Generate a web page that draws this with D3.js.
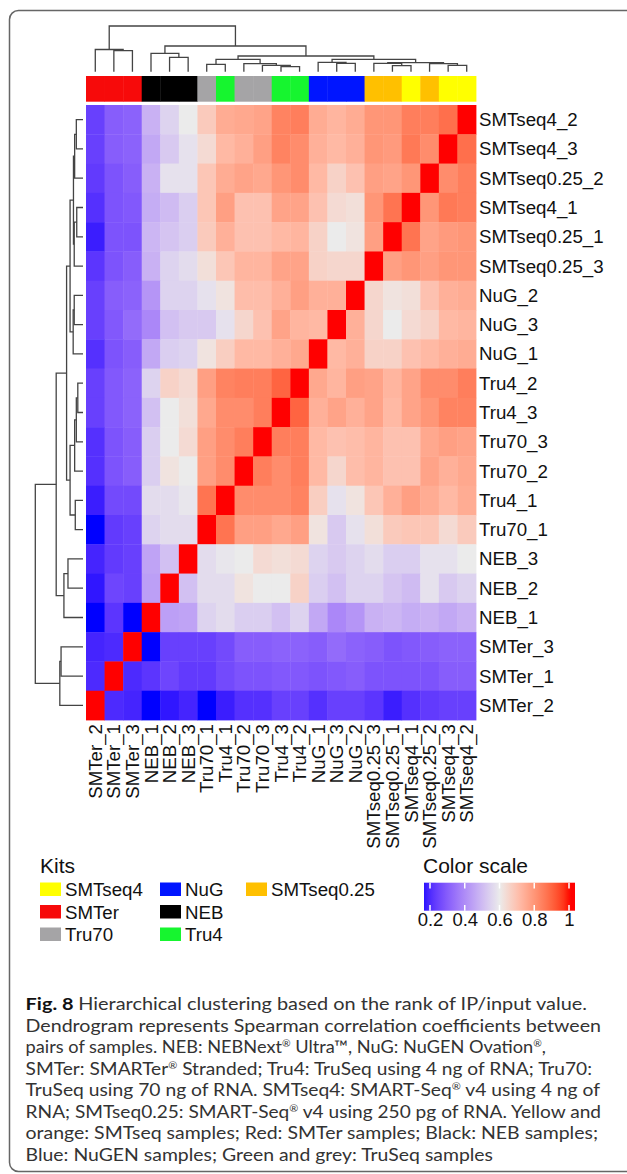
<!DOCTYPE html>
<html>
<head>
<meta charset="utf-8">
<script src="https://cdn.jsdelivr.net/npm/d3@7"></script>
<style>
  body { margin: 0; background: #fff; }
  svg text { font-family: "Liberation Sans", Arial, sans-serif; }
  .caption text { font-family: Lato, "Open Sans", sans-serif; }
</style>
</head>
<body>
<div class="chart"></div>
<script>
// page size
var width = 627;
var height = 1174;

// samples in dendrogram (column) order
var samples = ["SMTer_2", "SMTer_1", "SMTer_3", "NEB_1", "NEB_2", "NEB_3",
  "Tru70_1", "Tru4_1", "Tru70_2", "Tru70_3", "Tru4_3", "Tru4_2",
  "NuG_1", "NuG_3", "NuG_2", "SMTseq0.25_3", "SMTseq0.25_1", "SMTseq4_1",
  "SMTseq0.25_2", "SMTseq4_3", "SMTseq4_2"];

// row labels, top to bottom
var rowLabels = ["SMTseq4_2", "SMTseq4_3", "SMTseq0.25_2", "SMTseq4_1", "SMTseq0.25_1",
  "SMTseq0.25_3", "NuG_2", "NuG_3", "NuG_1", "Tru4_2", "Tru4_3", "Tru70_3", "Tru70_2",
  "Tru4_1", "Tru70_1", "NEB_3", "NEB_2", "NEB_1", "SMTer_3", "SMTer_1", "SMTer_2"];

var sampleKit = ["SMTer", "SMTer", "SMTer", "NEB", "NEB", "NEB",
  "Tru70", "Tru4", "Tru70", "Tru70", "Tru4", "Tru4",
  "NuG", "NuG", "NuG", "SMTseq0.25", "SMTseq0.25", "SMTseq4",
  "SMTseq0.25", "SMTseq4", "SMTseq4"];

var kitNames = ["SMTseq4", "SMTer", "Tru70", "NuG", "NEB", "Tru4", "SMTseq0.25"];
var kitColors = ["#FFFF00", "#F70A0A", "#A5A4A6", "#0015FF", "#000000", "#16F52F", "#FFC000"];

// Spearman correlations, lower triangle: sample i against samples 0..i-1 (column order)
var corrLower = [
  [],
  [0.20],
  [0.19, 0.20],
  [0.15, 0.22, 0.15],
  [0.17, 0.25, 0.24, 0.44],
  [0.19, 0.23, 0.24, 0.45, 0.51],
  [0.15, 0.23, 0.24, 0.55, 0.57, 0.57],
  [0.18, 0.26, 0.26, 0.57, 0.57, 0.59, 0.87],
  [0.21, 0.28, 0.30, 0.54, 0.62, 0.60, 0.78, 0.82],
  [0.21, 0.28, 0.30, 0.54, 0.60, 0.64, 0.78, 0.82, 0.85],
  [0.24, 0.29, 0.31, 0.51, 0.60, 0.63, 0.76, 0.82, 0.82, 0.85],
  [0.24, 0.29, 0.31, 0.55, 0.66, 0.64, 0.78, 0.84, 0.85, 0.85, 0.90],
  [0.21, 0.28, 0.30, 0.46, 0.54, 0.55, 0.62, 0.67, 0.72, 0.72, 0.74, 0.76],
  [0.24, 0.29, 0.33, 0.39, 0.51, 0.53, 0.53, 0.58, 0.65, 0.70, 0.77, 0.73, 0.72],
  [0.24, 0.30, 0.31, 0.42, 0.55, 0.55, 0.58, 0.62, 0.71, 0.71, 0.74, 0.78, 0.74, 0.74],
  [0.22, 0.28, 0.30, 0.48, 0.55, 0.57, 0.63, 0.69, 0.73, 0.73, 0.77, 0.77, 0.66, 0.65, 0.65],
  [0.18, 0.28, 0.28, 0.49, 0.52, 0.54, 0.68, 0.74, 0.70, 0.70, 0.72, 0.73, 0.66, 0.60, 0.62, 0.78],
  [0.21, 0.28, 0.29, 0.47, 0.50, 0.54, 0.69, 0.78, 0.70, 0.70, 0.77, 0.77, 0.70, 0.64, 0.63, 0.80, 0.87],
  [0.23, 0.28, 0.30, 0.48, 0.58, 0.58, 0.69, 0.75, 0.77, 0.76, 0.80, 0.82, 0.72, 0.66, 0.70, 0.78, 0.77, 0.80],
  [0.24, 0.30, 0.31, 0.46, 0.53, 0.58, 0.64, 0.72, 0.74, 0.78, 0.84, 0.82, 0.74, 0.72, 0.74, 0.80, 0.79, 0.86, 0.82],
  [0.24, 0.30, 0.31, 0.48, 0.55, 0.60, 0.68, 0.75, 0.76, 0.77, 0.84, 0.85, 0.75, 0.73, 0.75, 0.80, 0.80, 0.85, 0.85, 0.88]
];

// hclust merges: leaf name or 1-based index of an earlier merge, then height (root = 1)
var merges = [
  ["Tru4_3", "Tru4_2", 0.109],
  ["SMTseq0.25_1", "SMTseq4_1", 0.131],
  ["Tru70_3", 1, 0.140],
  ["SMTseq4_3", "SMTseq4_2", 0.140],
  ["Tru70_1", "Tru4_1", 0.162],
  ["Tru70_2", 3, 0.175],
  ["SMTseq0.25_2", 4, 0.175],
  ["SMTseq0.25_3", 2, 0.184],
  ["NuG_3", "NuG_2", 0.184],
  [8, 7, 0.200],
  ["NuG_1", 9, 0.206],
  [5, 6, 0.271],
  [11, 10, 0.271],
  [12, 13, 0.344],
  ["NEB_2", "NEB_3", 0.315],
  ["NEB_1", 15, 0.400],
  [16, 14, 0.562],
  ["SMTer_1", "SMTer_3", 0.460],
  ["SMTer_2", 18, 0.486],
  [19, 17, 1.000]
];

var legendTicks = [0.2, 0.4, 0.6, 0.8, 1];

var captionLines = [
  "Hierarchical clustering based on the rank of IP/input value.",
  "Dendrogram represents Spearman correlation coefficients between",
  "pairs of samples. NEB: NEBNext® Ultra™, NuG: NuGEN Ovation®,",
  "SMTer: SMARTer® Stranded; Tru4: TruSeq using 4 ng of RNA; Tru70:",
  "TruSeq using 70 ng of RNA. SMTseq4: SMART-Seq® v4 using 4 ng of",
  "RNA; SMTseq0.25: SMART-Seq® v4 using 250 pg of RNA. Yellow and",
  "orange: SMTseq samples; Red: SMTer samples; Black: NEB samples;",
  "Blue: NuGEN samples; Green and grey: TruSeq samples"
];
// right end of each caption line (px)
var captionEnds = [587, 601, 546, 592, 600, 601, 598, 493];

// ---------------------------------------------------------------
const svg = d3.select(".chart")
  .append("svg")
  .attr("width", width)
  .attr("height", height);

// figure frame
svg.append("rect")
  .attr("x", 9.5).attr("y", 10.5)
  .attr("width", 650).attr("height", 1161)
  .attr("rx", 9)
  .attr("fill", "none")
  .attr("stroke", "#666")
  .attr("stroke-width", 1.5);

function corr(a, b) {
  var i = samples.indexOf(a), j = samples.indexOf(b);
  if (i === j) return 1;
  return i > j ? corrLower[i][j] : corrLower[j][i];
}

var colorScale = d3.scaleLinear()
  .domain([0.15, 0.6, 1])
  .range(["#0000ff", "#ebebeb", "#ff0000"])
  .interpolate(d3.interpolateLab)
  .clamp(true);

const xScale = d3.scaleBand().domain(samples).range([86, 476]);
const yScale = d3.scaleBand().domain(rowLabels).range([105, 720]);

// heatmap cells
var cells = [];
rowLabels.forEach(r => samples.forEach(c => cells.push({r: r, c: c, v: corr(r, c)})));

svg.append("g")
  .attr("id", "heatmap")
  .selectAll("rect")
  .data(cells)
  .enter()
  .append("rect")
  .attr("x", d => xScale(d.c))
  .attr("y", d => yScale(d.r))
  .attr("width", xScale.bandwidth() + 0.4)
  .attr("height", yScale.bandwidth() + 0.4)
  .attr("fill", d => colorScale(d.v));

// kit colour bar
var kitColor = d3.scaleOrdinal().domain(kitNames).range(kitColors);
svg.append("g")
  .selectAll("rect")
  .data(samples)
  .enter()
  .append("rect")
  .attr("x", d => xScale(d))
  .attr("y", 76)
  .attr("width", xScale.bandwidth() + 0.4)
  .attr("height", 25.7)
  .attr("fill", (d, i) => kitColor(sampleKit[i]));

// row labels
svg.append("g")
  .selectAll("text")
  .data(rowLabels)
  .enter()
  .append("text")
  .attr("x", 479)
  .attr("y", d => yScale(d) + yScale.bandwidth() / 2)
  .attr("dy", "0.35em")
  .style("font-size", "18.7px")
  .attr("fill", "#111")
  .text(d => d);

// column labels
svg.append("g")
  .selectAll("text")
  .data(samples)
  .enter()
  .append("text")
  .attr("transform", d => "translate(" + (xScale(d) + xScale.bandwidth() / 2) + ",724) rotate(-90)")
  .attr("text-anchor", "end")
  .attr("dy", "0.35em")
  .style("font-size", "18.7px")
  .attr("fill", "#111")
  .text(d => d);

// dendrograms
function dendroSegments(posOf) {
  var nodes = [];
  var segs = [];
  function get(ref) {
    if (typeof ref === "string") return {p: posOf(ref), h: 0};
    return nodes[ref - 1];
  }
  merges.forEach(m => {
    var a = get(m[0]), b = get(m[1]);
    segs.push({a: a, b: b, h: m[2]});
    nodes.push({p: (a.p + b.p) / 2, h: m[2]});
  });
  return segs;
}

var topH = d3.scaleLinear().domain([0, 1]).range([71.7, 26]);
var leftH = d3.scaleLinear().domain([0, 1]).range([83, 35.3]);

svg.append("g")
  .attr("id", "col-dendro")
  .selectAll("path")
  .data(dendroSegments(n => xScale(n) + xScale.bandwidth() / 2))
  .enter()
  .append("path")
  .attr("d", s => "M" + s.a.p + "," + topH(s.a.h) + "V" + topH(s.h) + "H" + s.b.p + "V" + topH(s.b.h))
  .attr("fill", "none")
  .attr("stroke", "#444")
  .attr("stroke-width", 1.3);

svg.append("g")
  .attr("id", "row-dendro")
  .selectAll("path")
  .data(dendroSegments(n => yScale(n) + yScale.bandwidth() / 2))
  .enter()
  .append("path")
  .attr("d", s => "M" + leftH(s.a.h) + "," + s.a.p + "H" + leftH(s.h) + "V" + s.b.p + "H" + leftH(s.b.h))
  .attr("fill", "none")
  .attr("stroke", "#444")
  .attr("stroke-width", 1.3);

// kits legend
svg.append("text")
  .attr("x", 40).attr("y", 873)
  .style("font-size", "21px")
  .attr("fill", "#111")
  .text("Kits");

var kitLegend = svg.append("g").attr("id", "kit-legend");
var kitItems = kitLegend.selectAll("g")
  .data(kitNames)
  .enter()
  .append("g")
  .attr("transform", (d, i) => "translate(" + [40, 160, 246][Math.floor(i / 3)] + "," + (882.5 + (i % 3) * 22.5) + ")");
kitItems.append("rect")
  .attr("width", 21).attr("height", 13.5)
  .attr("fill", (d, i) => kitColors[i]);
kitItems.append("text")
  .attr("x", 25).attr("y", 13.5)
  .style("font-size", "18.7px")
  .attr("fill", "#111")
  .text(d => d);

// colour scale legend
svg.append("text")
  .attr("x", 423).attr("y", 873)
  .style("font-size", "21px")
  .attr("fill", "#111")
  .text("Color scale");

var legendScale = d3.scaleLinear().domain([0.2, 1]).range([430, 569]);
var lo = legendScale.invert(424), hi = legendScale.invert(575);
var grad = svg.append("defs").append("linearGradient").attr("id", "cgrad");
grad.selectAll("stop")
  .data(d3.range(0, 1.0001, 0.025))
  .enter()
  .append("stop")
  .attr("offset", d => d)
  .attr("stop-color", d => colorScale(lo + d * (hi - lo)));

svg.append("rect")
  .attr("x", 424).attr("y", 882.7)
  .attr("width", 151).attr("height", 28)
  .attr("fill", "url(#cgrad)");

var lTicks = svg.append("g").attr("id", "legend-ticks");
lTicks.selectAll("line.top")
  .data(legendTicks).enter().append("line")
  .attr("x1", d => legendScale(d)).attr("x2", d => legendScale(d))
  .attr("y1", 882.7).attr("y2", 888.5)
  .attr("stroke", "#fff").attr("stroke-width", 1.5);
lTicks.selectAll("line.bot")
  .data(legendTicks).enter().append("line")
  .attr("x1", d => legendScale(d)).attr("x2", d => legendScale(d))
  .attr("y1", 905).attr("y2", 910.7)
  .attr("stroke", "#fff").attr("stroke-width", 1.5);

const lAxis = d3.axisBottom(legendScale)
  .tickValues(legendTicks)
  .tickSize(0)
  .tickPadding(2)
  .tickFormat(d3.format("~g"));
var lAxisG = svg.append("g")
  .attr("transform", "translate(0,910.7)")
  .call(lAxis);
lAxisG.select(".domain").remove();
lAxisG.selectAll("text")
  .style("font-size", "18.5px")
  .style("font-family", "Liberation Sans, Arial, sans-serif")
  .attr("fill", "#111");

// caption
var cap = svg.append("g").attr("class", "caption");
captionLines.forEach((line, i) => {
  var t = cap.append("text")
    .attr("x", 25.6)
    .attr("y", 1010 + i * 21.5)
    .attr("textLength", captionEnds[i] - 25.6)
    .attr("lengthAdjust", "spacingAndGlyphs")
    .style("font-size", "17.6px")
    .attr("fill", "#333");
  if (i === 0) {
    t.append("tspan").style("font-weight", "bold").attr("fill", "#111").text("Fig. 8 ");
  }
  line.split("®").forEach((part, k) => {
    if (k > 0) {
      t.append("tspan").attr("dy", -6).style("font-size", "10px").text("®");
      t.append("tspan").attr("dy", 6).text(part);
    } else {
      t.append("tspan").text(part);
    }
  });
});
</script>
</body>
</html>
